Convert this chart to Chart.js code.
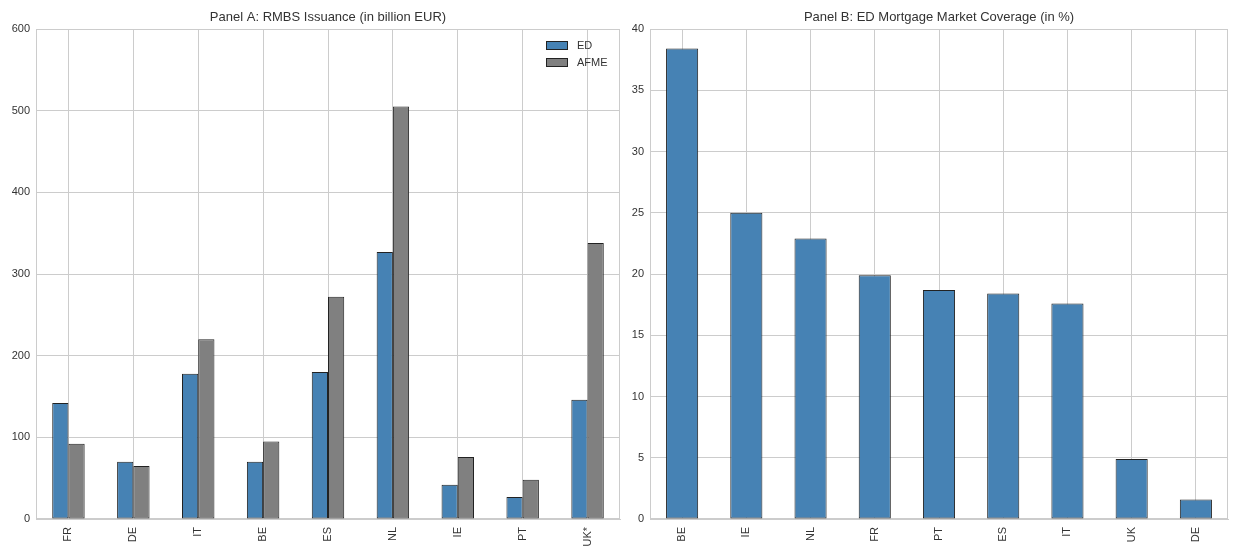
<!DOCTYPE html>
<html>
<head>
<meta charset="utf-8">
<script src="https://cdn.jsdelivr.net/npm/chart.js@4/dist/chart.umd.min.js"></script>
<style>
  html, body { margin: 0; padding: 0; background: #fff; }
  #wrapA { position: absolute; left: 0; top: 0; width: 626px; height: 554px; }
  #wrapB { position: absolute; left: 620px; top: 0; width: 613px; height: 554px; }
</style>
</head>
<body>
<div id="wrapA"><canvas id="chartA" width="626" height="554"></canvas></div>
<div id="wrapB"><canvas id="chartB" width="613" height="554"></canvas></div>
<script>
// panel A: RMBS issuance, billion EUR
const countriesA = ["FR", "DE", "IT", "BE", "ES", "NL", "IE", "PT", "UK*"];
const edIssuance = [142, 70, 178, 70, 180, 327, 42, 27, 146];
const afmeIssuance = [92, 65, 220, 95, 272, 505, 76, 48, 338];

// panel B: ED coverage, %
const countriesB = ["BE", "IE", "NL", "FR", "PT", "ES", "IT", "UK", "DE"];
const coverage = [38.4, 25.0, 22.9, 19.9, 18.7, 18.4, 17.6, 4.9, 1.6];

const FONT = "'Liberation Sans', Arial, sans-serif";
const GRID = "#cccccc";
const TXT = "#333333";

// light frame round the plot area, like seaborn whitegrid
const framePlugin = {
  id: "frame",
  beforeDatasetsDraw(chart) {
    const a = chart.chartArea, ctx = chart.ctx;
    ctx.save();
    ctx.strokeStyle = GRID;
    ctx.lineWidth = 1;
    ctx.strokeRect(a.left + 0.5, a.top + 0.5, a.right - a.left - 1, a.bottom - a.top - 1);
    ctx.restore();
  }
};

// title centred over the plot area (matplotlib style), not the whole canvas
const panelTitle = {
  id: "panelTitle",
  afterDraw(chart, args, opts) {
    const a = chart.chartArea, ctx = chart.ctx;
    ctx.save();
    ctx.font = "13px " + FONT;
    ctx.fillStyle = TXT;
    ctx.textAlign = "center";
    ctx.textBaseline = "middle";
    ctx.fillText(opts.text, (a.left + a.right) / 2, a.top - 12);
    ctx.restore();
  }
};

// legend inside the axes, top right
const innerLegend = {
  id: "innerLegend",
  afterDatasetsDraw(chart) {
    if (chart.canvas.id !== "chartA") return;
    const a = chart.chartArea, ctx = chart.ctx;
    ctx.save();
    ctx.font = "11px " + FONT;
    ctx.textBaseline = "middle";
    chart.data.datasets.forEach((ds, i) => {
      const x = a.right - 74, y = a.top + 12 + i * 17;
      ctx.fillStyle = ds.backgroundColor;
      ctx.fillRect(x, y, 22, 9);
      ctx.strokeStyle = "#222";
      ctx.lineWidth = 1;
      ctx.strokeRect(x + 0.5, y + 0.5, 21, 8);
      ctx.fillStyle = TXT;
      ctx.fillText(ds.label, x + 31, y + 5);
    });
    ctx.restore();
  }
};

function makeOpts(title, max, step, yWidth, padRight) {
  return {
    responsive: false,
    animation: false,
    layout: { padding: { top: 29, right: padRight, bottom: 0, left: 0 } },
    plugins: {
      legend: { display: false },
      tooltip: { enabled: false },
      title: { display: false },
      panelTitle: { text: title }
    },
    scales: {
      x: {
        grid: { color: GRID, offset: false, drawTicks: false },
        border: { color: GRID },
        ticks: {
          color: TXT, padding: 8, minRotation: 90, maxRotation: 90,
          font: { family: FONT, size: 11 }
        },
        afterFit(s) { s.height = 35; }
      },
      y: {
        min: 0, max: max,
        grid: { color: GRID, drawTicks: false },
        border: { color: GRID },
        ticks: {
          stepSize: step, color: TXT, padding: 6,
          font: { family: FONT, size: 11 }
        },
        afterFit(s) { s.width = yWidth; }
      }
    }
  };
}

new Chart(document.getElementById("chartA"), {
  type: "bar",
  data: {
    labels: countriesA,
    datasets: [
      {
        label: "ED", data: edIssuance, backgroundColor: "#4682b4",
        borderColor: "#222", borderWidth: 1, borderSkipped: false,
        categoryPercentage: 0.5, barPercentage: 1.0
      },
      {
        label: "AFME", data: afmeIssuance, backgroundColor: "#808080",
        borderColor: "#222", borderWidth: 1, borderSkipped: false,
        categoryPercentage: 0.5, barPercentage: 1.0
      }
    ]
  },
  options: makeOpts("Panel A: RMBS Issuance (in billion EUR)", 600, 100, 36, 6),
  plugins: [framePlugin, innerLegend, panelTitle]
});

new Chart(document.getElementById("chartB"), {
  type: "bar",
  data: {
    labels: countriesB,
    datasets: [{
      label: "coverage", data: coverage, backgroundColor: "#4682b4",
      borderColor: "#222", borderWidth: 1, borderSkipped: false,
      categoryPercentage: 0.5, barPercentage: 1.0
    }]
  },
  options: makeOpts("Panel B: ED Mortgage Market Coverage (in %)", 40, 5, 30, 5),
  plugins: [framePlugin, panelTitle]
});
</script>
</body>
</html>
